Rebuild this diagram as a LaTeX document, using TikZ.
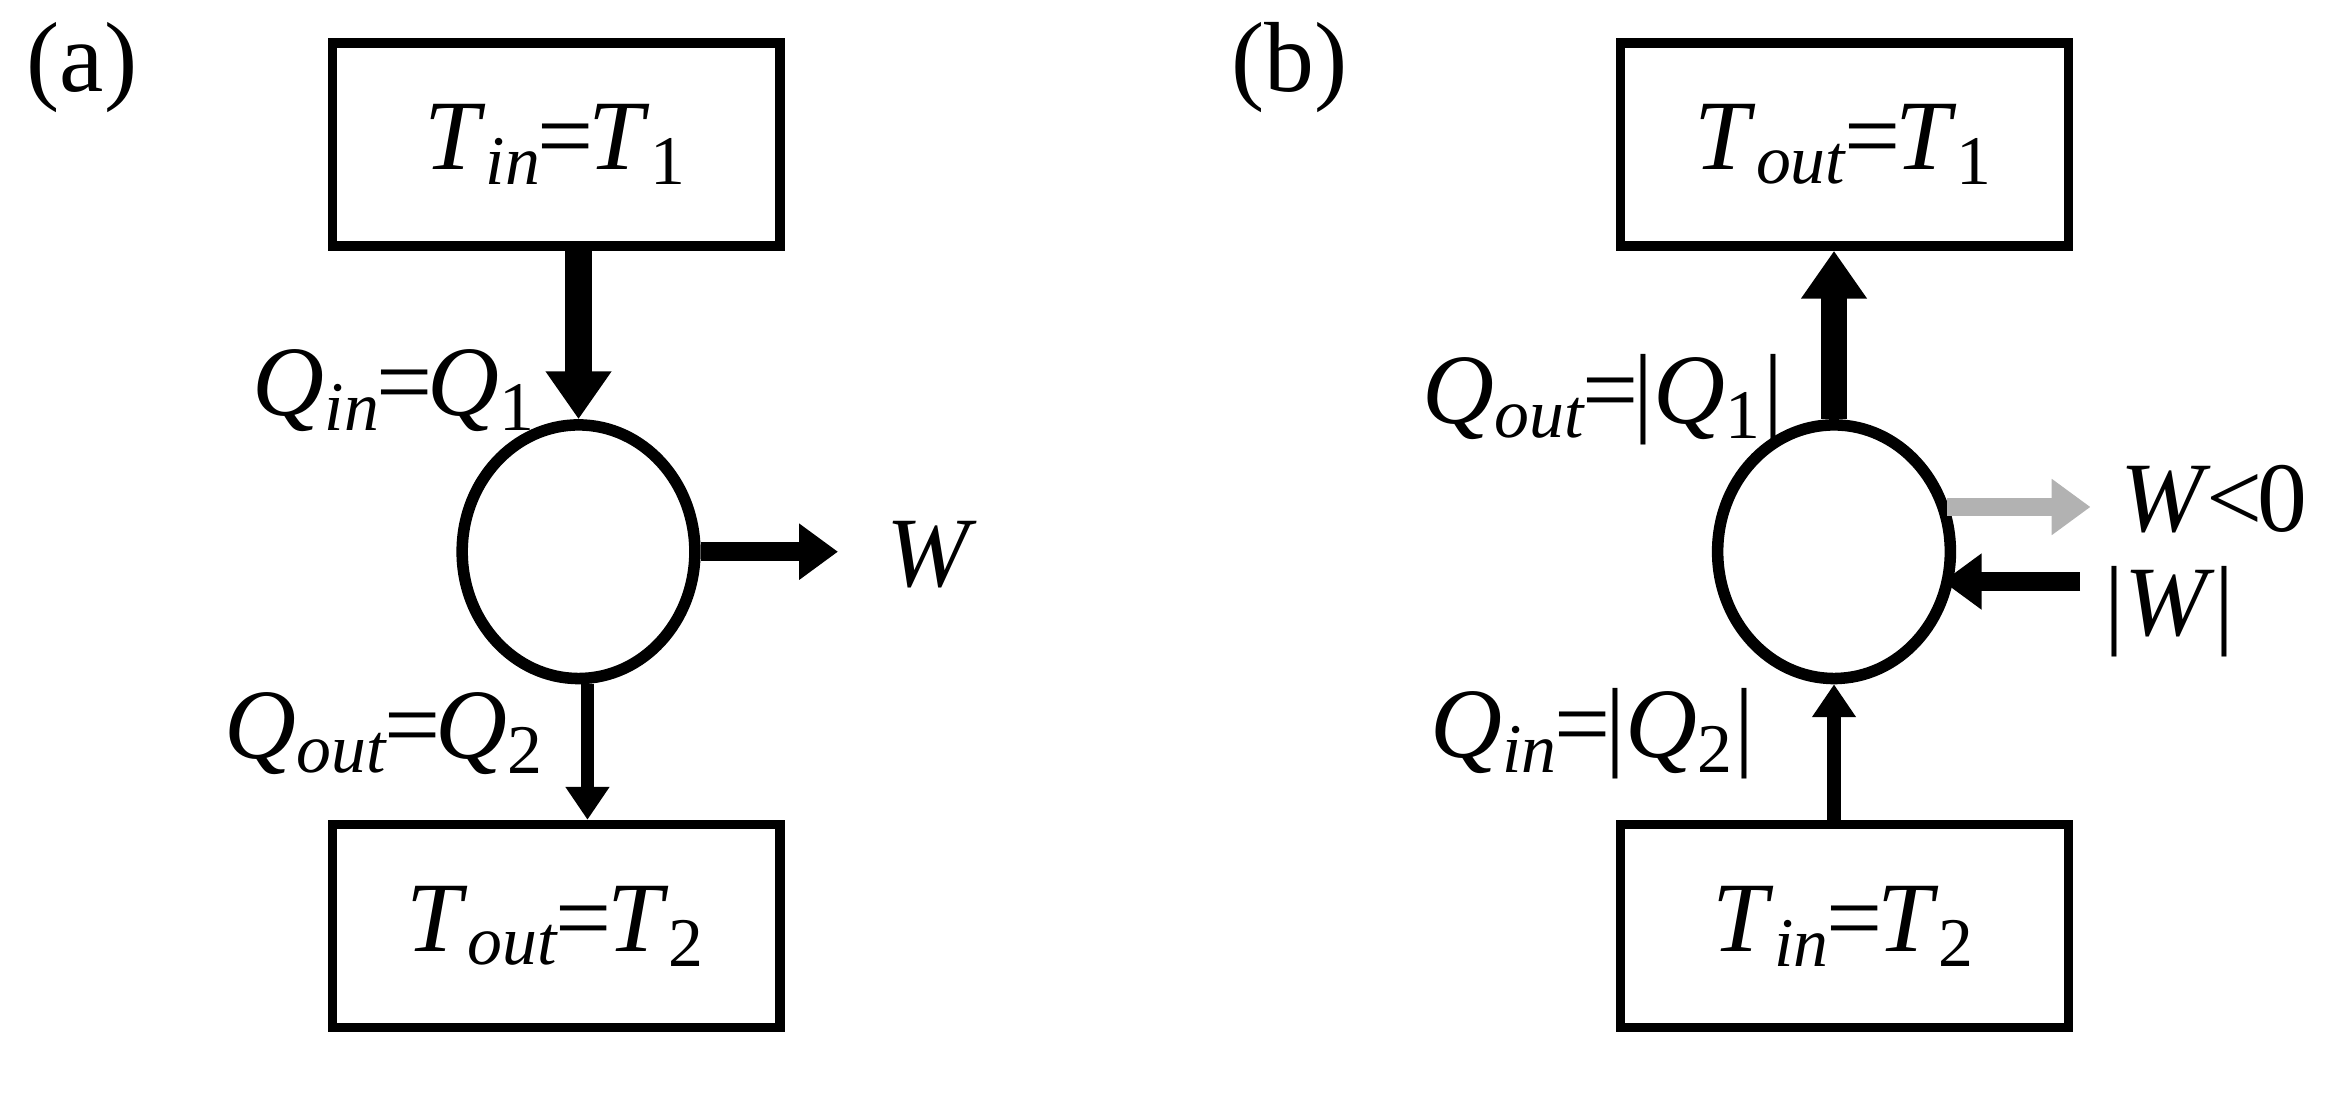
\documentclass[tikz,border=0pt]{standalone}
\usepackage{fontspec}
\setmainfont{Liberation Serif}
\usetikzlibrary{arrows.meta,shapes.geometric,calc}
\newcommand{\vv}[2]{\textit{#1}\textsubscript{\textit{#2}}}
\newcommand{\eqq}{\kern-0.05em=\kern-0.05em}
\begin{document}
\begin{tikzpicture}[x=0.01cm,y=-0.01cm,
  box/.style={draw,line width=1.8pt,minimum width=3.0cm,minimum height=1.36cm,inner sep=0pt},
  eng/.style={draw,line width=2.2pt,ellipse,minimum width=1.56cm,minimum height=1.70cm,inner sep=0pt},
  lab/.style={font=\fontsize{19}{23}\selectfont},
  fat/.style={line width=5pt,-{Triangle[length=0.32cm,width=0.42cm]}},
  mid/.style={line width=3.6pt,-{Triangle[length=0.26cm,width=0.36cm]}},
  thin/.style={line width=2.6pt,-{Triangle[length=0.22cm,width=0.28cm]}}]
\useasboundingbox (0,0) rectangle (1568,738);
% (a)
\node[lab] (la) at (55,45) {(a)};
\node[box,lab] (ta) at (373,97) {\vv{T}{in}\eqq\textit{T}\textsubscript{1}};
\node[eng] (ca) at (388,370) {};
\node[box,lab] (ba) at (373,621) {\vv{T}{out}\eqq\textit{T}\textsubscript{2}};
\draw[fat] (ta.south -| ca.north) -- (ca.north);
\node[lab] (qa1) at (265,262) {\vv{Q}{in}\eqq\textit{Q}\textsubscript{1}};
\coordinate (wa) at (562,370);
\draw[mid] (ca.east) -- (wa);
\node[lab] (wla) at (625,372) {\textit{W}};
\draw[thin] ($(ca.south)+(6,0)$) -- ($(ba.north -| ca.south)+(6,0)$);
\node[lab] (qa2) at (258,492) {\vv{Q}{out}\eqq\textit{Q}\textsubscript{2}};
% (b)
\node[lab] (lb) at (865,45) {(b)};
\node[box,lab] (tb) at (1237,97) {\vv{T}{out}\eqq\textit{T}\textsubscript{1}};
\node[eng] (cb) at (1230,370) {};
\node[box,lab] (bb) at (1237,621) {\vv{T}{in}\eqq\textit{T}\textsubscript{2}};
\draw[fat] (cb.north) -- (tb.south -| cb.north);
\node[lab] (qb1) at (1075,268) {\vv{Q}{out}\eqq|\textit{Q}\textsubscript{1}|};
\coordinate (g1) at (1306,340);
\coordinate (g2) at (1402,340);
\draw[mid,draw=gray!60,fill=gray!60] (g1) -- (g2);
\node[lab] (wb) at (1485,335) {\textit{W}\kern-0.05em<\kern-0.05em0};
\coordinate (k1) at (1395,390);
\coordinate (k2) at (1303,390);
\draw[mid] (k1) -- (k2);
\node[lab] (wab) at (1455,410) {|\textit{W}|};
\draw[thin] (bb.north -| cb.south) -- (cb.south);
\node[lab] (qb2) at (1068,492) {\vv{Q}{in}\eqq|\textit{Q}\textsubscript{2}|};
\end{tikzpicture}
\end{document}
